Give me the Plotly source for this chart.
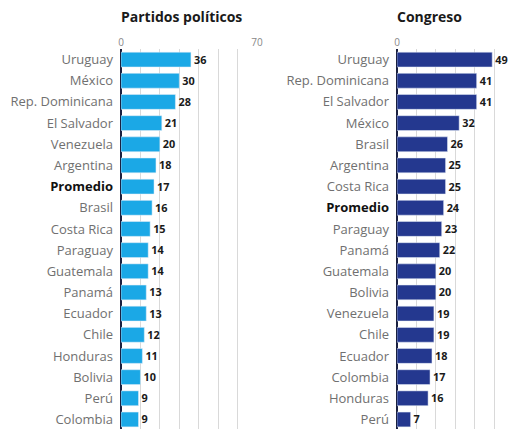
import plotly.graph_objects as go

# ---- data ----
left_countries = ["Uruguay", "México", "Rep. Dominicana", "El Salvador", "Venezuela", "Argentina",
                  "Promedio", "Brasil", "Costa Rica", "Paraguay", "Guatemala", "Panamá", "Ecuador",
                  "Chile", "Honduras", "Bolivia", "Perú", "Colombia"]
left_values = [36, 30, 28, 21, 20, 18, 17, 16, 15, 14, 14, 13, 13, 12, 11, 10, 9, 9]

right_countries = ["Uruguay", "Rep. Dominicana", "El Salvador", "México", "Brasil", "Argentina",
                   "Costa Rica", "Promedio", "Paraguay", "Panamá", "Guatemala", "Bolivia", "Venezuela",
                   "Chile", "Ecuador", "Colombia", "Honduras", "Perú"]
right_values = [49, 41, 41, 32, 26, 25, 25, 24, 23, 22, 20, 20, 19, 19, 18, 17, 16, 7]

left_title = "Partidos políticos"
right_title = "Congreso"

W, H = 511, 429
LEFT_COLOR = "#1ba8e6"
RIGHT_COLOR = "#24388f"
LABEL_FONT = "Open Sans"


def ticktexts(names):
    out = []
    for n in names:
        if n == "Promedio":
            out.append('<span style="color:#111111"><b>Promedio</b></span>')
        else:
            out.append(n)
    return out


fig = go.Figure()
fig.add_trace(go.Bar(
    x=left_values, y=left_countries, orientation="h", marker_color=LEFT_COLOR,
    text=left_values, texttemplate="<b>%{text}</b>", textposition="outside",
    textfont=dict(family=LABEL_FONT, size=12.5, color="#1a1a1a"),
    cliponaxis=False, xaxis="x", yaxis="y", hoverinfo="skip",
))
fig.add_trace(go.Bar(
    x=right_values, y=right_countries, orientation="h", marker_color=RIGHT_COLOR,
    text=right_values, texttemplate="<b>%{text}</b>", textposition="outside",
    textfont=dict(family=LABEL_FONT, size=12.5, color="#1a1a1a"),
    cliponaxis=False, xaxis="x2", yaxis="y2", hoverinfo="skip",
))

n = len(left_countries)
plot_top = 49
ydom = [0, 1 - plot_top / H]
yrange = [n - 0.55, -0.5]

common_x = dict(side="top", showline=False, zeroline=True, zerolinecolor="#1a2040", zerolinewidth=1.5,
                showgrid=True, gridcolor="#d9d9d9", gridwidth=1, ticks="", automargin=False,
                tickfont=dict(family=LABEL_FONT, size=10, color="#888888"),
                minor=dict(tickvals=[10, 20, 30, 40, 50, 60], showgrid=True, gridcolor="#d9d9d9", gridwidth=1))
common_y = dict(type="category", showgrid=False, zeroline=False, showline=False, ticks="",
                ticklabelstandoff=7, automargin=False,
                tickfont=dict(family=LABEL_FONT, size=13, color="#707070"))

lx0 = 121 / W
lx1 = 257 / W
rx0 = 397 / W
scale = (257 - 121) / 70.0
rmax = (W - 397) / scale

fig.update_layout(
    width=W, height=H,
    margin=dict(l=0, r=0, t=0, b=0, autoexpand=False),
    paper_bgcolor="white", plot_bgcolor="white",
    showlegend=False, bargap=0.3,
    xaxis=dict(domain=[lx0, lx1], range=[0, 70], tickvals=[0, 70], anchor="y", **common_x),
    yaxis=dict(domain=ydom, range=yrange, categoryorder="array", categoryarray=left_countries,
               tickvals=left_countries, ticktext=ticktexts(left_countries), anchor="x", **common_y),
    xaxis2=dict(domain=[rx0, 1], range=[0, rmax], tickvals=[0], anchor="y2", **common_x),
    yaxis2=dict(domain=ydom, range=yrange, categoryorder="array", categoryarray=right_countries,
                tickvals=right_countries, ticktext=ticktexts(right_countries), anchor="x2", **common_y),
    annotations=[
        dict(text="<b>" + left_title + "</b>", xref="paper", yref="paper", x=lx0 - 2 / W, y=1 - 17 / H,
             xanchor="left", yanchor="middle", showarrow=False,
             font=dict(family=LABEL_FONT, size=14, color="#1a1a1a")),
        dict(text="<b>" + right_title + "</b>", xref="paper", yref="paper", x=rx0 - 2 / W, y=1 - 17 / H,
             xanchor="left", yanchor="middle", showarrow=False,
             font=dict(family=LABEL_FONT, size=14, color="#1a1a1a")),
    ],
)

fig.write_html("out.html", config={"displayModeBar": False},
               post_script="document.body.style.margin='0px';document.body.style.overflow='hidden';")
